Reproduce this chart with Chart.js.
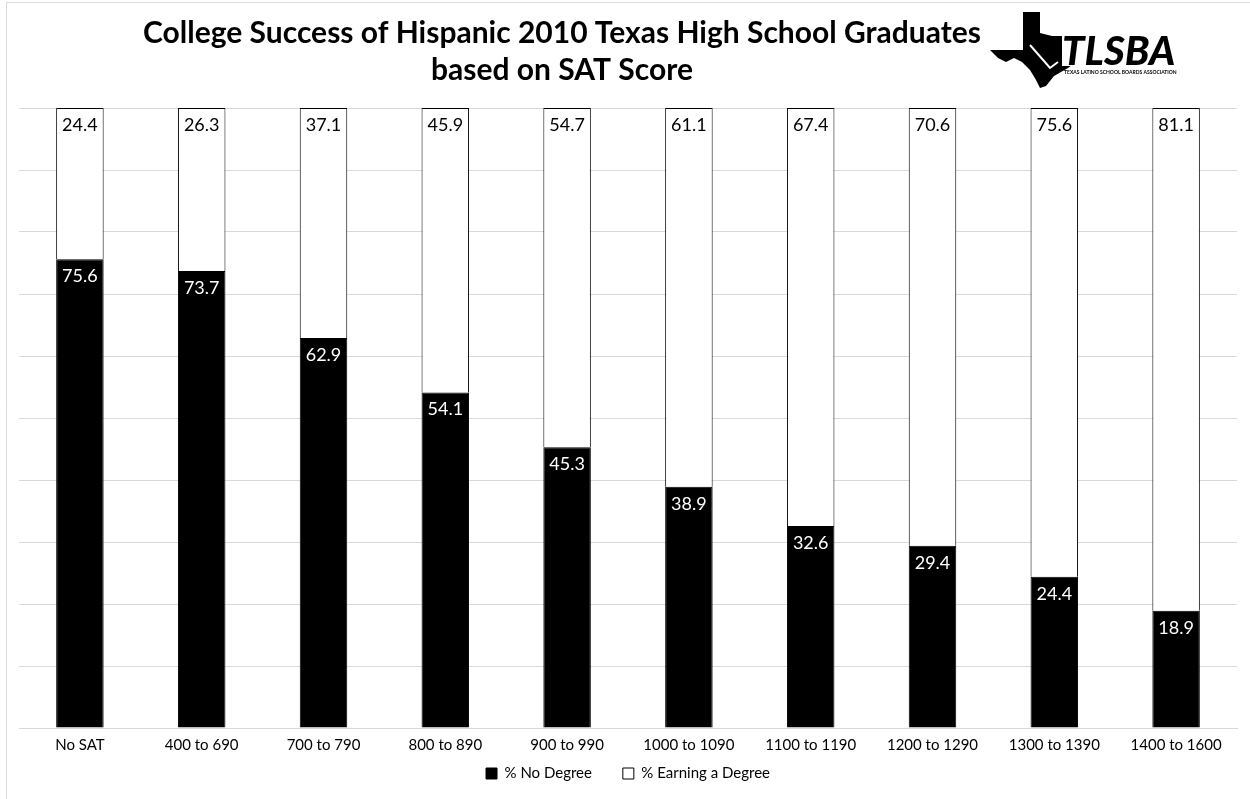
<!DOCTYPE html>
<html>
<head>
<meta charset="utf-8">
<script src="https://cdn.jsdelivr.net/npm/chart.js@4.4.0/dist/chart.umd.min.js"></script>
<style>
  html, body { margin: 0; padding: 0; background: #fff; overflow: hidden; }
  #wrap { position: absolute; left: 0; top: 0; width: 1250px; height: 799px; }
</style>
</head>
<body>
<div id="wrap"><canvas id="chart" width="1250" height="799"></canvas></div>
<script>
const categories = ['No SAT', '400 to 690', '700 to 790', '800 to 890', '900 to 990',
    '1000 to 1090', '1100 to 1190', '1200 to 1290', '1300 to 1390', '1400 to 1600'];
const noDegree = [75.6, 73.7, 62.9, 54.1, 45.3, 38.9, 32.6, 29.4, 24.4, 18.9];
const earningDegree = [24.4, 26.3, 37.1, 45.9, 54.7, 61.1, 67.4, 70.6, 75.6, 81.1];
const titleLines = ['College Success of Hispanic 2010 Texas High School Graduates', 'based on SAT Score'];

const FONT = 'Lato, "Open Sans", sans-serif';

// frame, title and logo
const decorPlugin = {
    id: 'decor',
    beforeDraw(chart) {
        const ctx = chart.ctx;
        ctx.save();
        ctx.fillStyle = '#fff';
        ctx.fillRect(0, 0, chart.width, chart.height);
        ctx.strokeStyle = '#d9d9d9';
        ctx.lineWidth = 1;
        ctx.beginPath();
        ctx.moveTo(6.5, chart.height);
        ctx.lineTo(6.5, 2.5);
        ctx.lineTo(chart.width, 2.5);
        ctx.stroke();
        ctx.restore();
    },
    afterDraw(chart) {
        const ctx = chart.ctx;
        ctx.save();
        // title
        ctx.fillStyle = '#000';
        ctx.font = 'bold 30px ' + FONT;
        ctx.textAlign = 'center';
        ctx.textBaseline = 'middle';
        ctx.fillText(titleLines[0], 562, 33);
        ctx.fillText(titleLines[1], 562, 70);

        // logo: rough Texas silhouette + TLSBA
        ctx.fillStyle = '#000';
        ctx.beginPath();
        const tx = [[1023,12],[1040,12],[1040,33],[1052,36],[1064,36],[1076,38],[1084,42],[1082,58],
            [1068,68],[1054,76],[1046,86],[1040,88],[1036,80],[1030,70],[1022,62],[1014,58],
            [1006,62],[998,58],[990,50],[1023,50]];
        ctx.moveTo(tx[0][0], tx[0][1]);
        tx.slice(1).forEach(p => ctx.lineTo(p[0], p[1]));
        ctx.closePath();
        ctx.fill();
        ctx.strokeStyle = '#fff';
        ctx.lineWidth = 2;
        ctx.beginPath();
        ctx.moveTo(1030, 45);
        ctx.lineTo(1050, 68);
        ctx.lineTo(1058, 62);
        ctx.stroke();

        ctx.fillStyle = '#fff';
        ctx.fillRect(1062, 32, 110, 34);
        ctx.fillStyle = '#000';
        ctx.font = 'italic 900 40px ' + FONT;
        ctx.textAlign = 'left';
        ctx.textBaseline = 'alphabetic';
        ctx.fillText('TLSBA', 1062, 65);
        ctx.font = 'bold 5px ' + FONT;
        ctx.fillText('TEXAS LATINO SCHOOL BOARDS ASSOCIATION', 1064, 74);
        ctx.restore();
    }
};

// value labels at the top inside each segment
const labelPlugin = {
    id: 'segLabels',
    afterDatasetsDraw(chart) {
        const ctx = chart.ctx;
        ctx.save();
        ctx.font = '18px ' + FONT;
        ctx.textAlign = 'center';
        ctx.textBaseline = 'middle';
        chart.data.datasets.forEach((ds, i) => {
            const meta = chart.getDatasetMeta(i);
            meta.data.forEach((bar, j) => {
                ctx.fillStyle = i === 0 ? '#fff' : '#000';
                ctx.fillText(ds.data[j].toFixed(1), bar.x, bar.y + 17);
            });
        });
        ctx.restore();
    }
};

new Chart(document.getElementById('chart').getContext('2d'), {
    type: 'bar',
    data: {
        labels: categories,
        datasets: [{
            label: '% No Degree',
            data: noDegree,
            backgroundColor: '#000',
            borderColor: '#000',
            borderWidth: 1
        }, {
            label: '% Earning a Degree',
            data: earningDegree,
            backgroundColor: '#fff',
            borderColor: '#000',
            borderWidth: 1
        }]
    },
    options: {
        responsive: false,
        animation: false,
        layout: { padding: { left: 19, right: 13, top: 108, bottom: 8 } },
        datasets: { bar: { barPercentage: 0.39, categoryPercentage: 1 } },
        scales: {
            x: {
                stacked: true,
                grid: { display: false, tickLength: 0 },
                border: { color: '#d9d9d9' },
                ticks: { color: '#000', font: { family: FONT, size: 15 }, padding: 8 }
            },
            y: {
                stacked: true,
                min: 0,
                max: 100,
                ticks: { display: false, stepSize: 10 },
                border: { display: false },
                grid: { color: '#d9d9d9', drawTicks: false }
            }
        },
        plugins: {
            title: { display: false },
            tooltip: { enabled: false },
            legend: {
                position: 'bottom',
                labels: {
                    color: '#000',
                    font: { family: FONT, size: 15 },
                    boxWidth: 11,
                    boxHeight: 11,
                    padding: 4,
                    generateLabels(chart) {
                        const items = Chart.defaults.plugins.legend.labels.generateLabels(chart);
                        items[0].text = items[0].text + '       ';
                        return items;
                    }
                }
            }
        }
    },
    plugins: [decorPlugin, labelPlugin]
});
</script>
</body>
</html>
